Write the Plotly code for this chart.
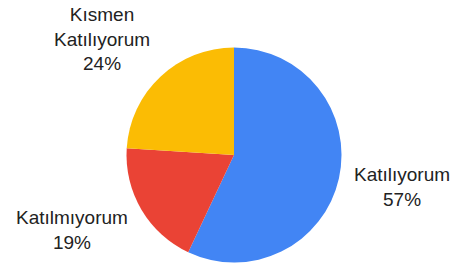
import math
import plotly.graph_objects as go

labels = ["Katılıyorum", "Katılmıyorum", "Kısmen<br>Katılıyorum"]
values = [57, 19, 24]
colors = ["#4285F4", "#EA4335", "#FBBC04"]

W, H = 454, 263
cx, cy, r = 234, 155, 107.5
gap = 13
fs = 19

fig = go.Figure(go.Pie(
    labels=labels,
    values=values,
    sort=False,
    direction="clockwise",
    rotation=0,
    marker=dict(colors=colors, line=dict(width=0)),
    textinfo="none",
    domain=dict(x=[(cx - r) / W, (cx + r) / W], y=[(H - cy - r) / H, (H - cy + r) / H]),
    hoverinfo="label+percent",
))

# outside labels placed on each slice's mid-angle, computed from the data
total = sum(values)
cum = 0
for lab, v in zip(labels, values):
    mid = (cum + v / 2) / total * 2 * math.pi
    cum += v
    ux, uy = math.sin(mid), -math.cos(mid)
    ax = cx + (r + gap) * ux
    n_lines = lab.count("<br>") + 2
    ay = cy + (r + gap) * uy + 13 * n_lines * uy
    fig.add_annotation(
        x=ax / W, y=1 - ay / H, xref="paper", yref="paper",
        text=f"{lab}<br>{round(100 * v / total)}%",
        showarrow=False,
        xanchor="left" if ux > 0 else "right",
        yanchor="middle",
        align="center",
        font=dict(family="Liberation Sans, Arial, sans-serif", size=fs, color="#222222"),
    )

fig.update_layout(
    width=W, height=H,
    margin=dict(l=0, r=0, t=0, b=0),
    showlegend=False,
    paper_bgcolor="white",
    plot_bgcolor="white",
)
fig.write_html(
    "out.html",
    config={"displayModeBar": False},
    post_script="document.body.style.margin='0';document.body.style.overflow='hidden';",
)
